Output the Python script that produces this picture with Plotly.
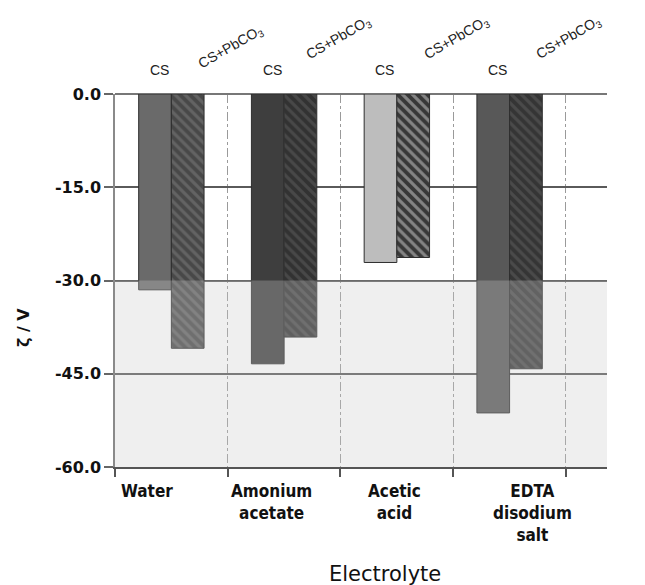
import plotly.graph_objects as go

# ---- data ----
electrolytes = ["Water", "Amonium acetate", "Acetic acid", "EDTA disodium salt"]
electrolyte_labels = ["Water", "Amonium<br>acetate", "Acetic<br>acid", "EDTA<br>disodium<br>salt"]
cs_values = [-31.5, -43.4, -27.1, -51.3]
cs_pb_values = [-40.9, -39.1, -26.3, -44.2]
series_names = ["CS", "CS+PbCO<sub>3</sub>"]
y_tickvals = [0, -15, -30, -45, -60]
y_ticktext = ["0.0", "-15.0", "-30.0", "-45.0", "-60.0"]

# ---- styles ----
cs_colors = ["#6a6a6a", "#3e3e3e", "#bdbdbd", "#585858"]
pb_bg = ["#484848", "#323232", "#383838", "#353535"]
pb_fg = ["#7e7e7e", "#5e5e5e", "#cfcfcf", "#606060"]

fig = go.Figure()
fig.add_trace(go.Bar(
    x=electrolytes, y=cs_values, name="CS", offsetgroup="cs",
    marker=dict(color=cs_colors, line=dict(color="#2e2e2e", width=1)),
    showlegend=False,
))
for i, cat in enumerate(electrolytes):
    fig.add_trace(go.Bar(
        x=[cat], y=[cs_pb_values[i]], name="CS+PbCO3", offsetgroup="pb",
        marker=dict(
            color=pb_bg[i],
            line=dict(color="#2e2e2e", width=1),
            pattern=dict(shape="\\", fgcolor=pb_fg[i], fillmode="overlay",
                         size=7, solidity=0.45),
        ),
        showlegend=False,
    ))

# shaded lower band (semi-transparent overlay, lightens bars below -30)
fig.add_shape(type="rect", xref="paper", yref="y", x0=0, x1=1, y0=-60, y1=-30,
              fillcolor="rgb(203,203,203)", opacity=0.30, line=dict(width=0),
              layer="above")

annotations = []
# top series labels
cs_shift = -12
pb_shift_x = [60, 55, 60, 59]
pb_shift_y = [47, 56, 56, 56]
for i, cat in enumerate(electrolytes):
    annotations.append(dict(x=cat, xref="x", y=1, yref="paper", text=series_names[0],
                            showarrow=False, xshift=cs_shift, yshift=24,
                            xanchor="center", yanchor="middle",
                            font=dict(family="Liberation Sans, Arial", size=14, color="#222")))
    annotations.append(dict(x=cat, xref="x", y=1, yref="paper", text=series_names[1],
                            showarrow=False, xshift=pb_shift_x[i], yshift=pb_shift_y[i],
                            xanchor="center", yanchor="middle", textangle=-30,
                            font=dict(family="Liberation Sans, Arial", size=14, color="#222")))

# bottom category labels
lab_shift = [-24, -13, -2, 23]
for i, cat in enumerate(electrolytes):
    annotations.append(dict(x=cat, xref="x", y=0, yref="paper", text=electrolyte_labels[i],
                            showarrow=False, xshift=lab_shift[i], yshift=-12,
                            xanchor="center", yanchor="top",
                            font=dict(family="DejaVu Sans Condensed, DejaVu Sans", size=17,
                                      color="#111", weight="bold")))

annotations.append(dict(x=0.548, xref="paper", y=0, yref="paper", text="Electrolyte",
                        showarrow=False, yshift=-107, xanchor="center", yanchor="middle",
                        font=dict(family="DejaVu Sans", size=21, color="#111")))
annotations.append(dict(x=-0.187, xref="paper", y=0.375, yref="paper", text="ζ / V",
                        showarrow=False, textangle=-90, xanchor="center", yanchor="middle",
                        font=dict(family="DejaVu Sans", size=16, color="#111", weight="bold")))

fig.update_layout(
    width=645, height=585,
    margin=dict(l=115, r=38, t=94, b=118),
    paper_bgcolor="white", plot_bgcolor="white",
    barmode="group", bargap=0.42, bargroupgap=0,
    annotations=annotations,
)
fig.update_xaxes(
    type="category", tickson="boundaries", showticklabels=False,
    ticks="outside", ticklen=8, tickcolor="#555", tickwidth=1.5,
    showline=True, linecolor="#555", linewidth=1.5,
    showgrid=True, gridcolor="#9a9a9a", griddash="dashdot", gridwidth=1,
)
fig.update_yaxes(
    range=[-60, 0], tickvals=y_tickvals, ticktext=y_ticktext,
    ticks="outside", ticklen=9, tickcolor="#666", tickwidth=1.5,
    showline=True, linecolor="#8a8a8a", linewidth=1.5,
    showgrid=True, gridcolor="#5a5a5a", gridwidth=1.5,
    zeroline=True, zerolinecolor="#777", zerolinewidth=1.5,
    tickfont=dict(family="DejaVu Sans", size=16, color="#111", weight="bold"),
)

fig.write_html("out.html")
